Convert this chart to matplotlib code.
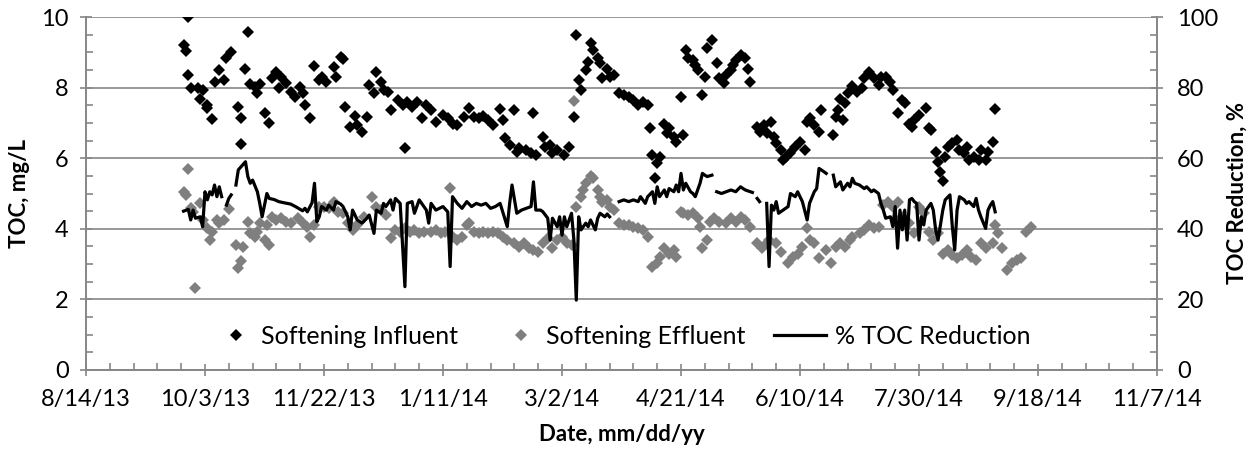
import numpy as np
import matplotlib
matplotlib.use("Agg")
import matplotlib.pyplot as plt
import matplotlib.dates as mdates
from matplotlib.ticker import FixedLocator, MultipleLocator, FuncFormatter
from matplotlib.legend_handler import HandlerLine2D

plt.rcParams['font.family'] = ['Lato', 'DejaVu Sans']

# days since 8/14/13
inf_day = [41, 42, 43, 43, 44, 47, 48, 49, 51, 51, 53, 54, 56, 58, 59, 61, 64, 65, 65, 67,
           68, 69, 71, 72, 73, 75, 77, 78, 80, 81, 82, 84, 86, 88, 90, 91, 92, 94, 96, 98,
           99, 101, 104, 105, 107, 108, 109, 111, 113, 114, 116, 118, 119, 121, 122, 124, 125, 127, 128, 131,
           133, 134, 135, 137, 139, 141, 143, 145, 147, 150, 152, 154, 156, 159, 161, 163, 165, 167, 169, 171,
           174, 175, 176, 178, 180, 181, 182, 185, 187, 188, 189, 192, 193, 195, 196, 198, 201, 203, 205, 206,
           207, 208, 210, 211, 212, 213, 215, 216, 217, 219, 220, 222, 224, 226, 228, 230, 232, 234, 236, 237,
           238, 239, 240, 241, 243, 244, 245, 247, 248, 250, 251, 252, 253, 255, 256, 257, 259, 260, 261, 263,
           265, 266, 268, 269, 271, 272, 273, 275, 277, 278, 279, 282, 283, 285, 286, 288, 289, 290, 292, 293,
           294, 296, 298, 300, 302, 303, 304, 306, 308, 309, 314, 315, 316, 317, 318, 319, 320, 322, 324, 326,
           327, 329, 331, 333, 334, 336, 338, 339, 341, 343, 344, 346, 347, 348, 350, 353, 354, 355, 357, 358,
           359, 360, 361, 362, 364, 366, 367, 369, 370, 371, 373, 375, 376, 378, 379, 381, 382]
inf_toc = [9.20, 9.05, 10.0, 8.36, 8.00, 8.00, 7.67, 7.93, 7.50, 7.41, 7.10, 8.17, 8.50, 8.22, 8.83, 9.02, 7.44, 6.39, 7.13, 8.52,
           9.58, 8.10, 8.03, 7.84, 8.10, 7.27, 7.00, 8.26, 8.45, 7.98, 8.31, 8.14, 7.88, 7.74, 8.03, 7.84, 7.50, 7.13, 8.61, 8.22,
           8.31, 8.17, 8.58, 8.31, 8.88, 8.80, 7.46, 6.89, 7.20, 6.94, 6.75, 7.16, 8.07, 7.84, 8.45, 8.17, 7.93, 7.88, 7.37, 7.65,
           7.50, 6.28, 7.60, 7.46, 7.60, 7.13, 7.50, 7.37, 7.03, 7.22, 7.13, 6.98, 6.94, 7.18, 7.41, 7.18, 7.13, 7.20, 7.08, 6.94,
           7.38, 7.08, 6.56, 6.37, 7.37, 6.18, 6.28, 6.23, 6.14, 7.29, 6.09, 6.61, 6.33, 6.37, 6.14, 6.23, 6.09, 6.31, 7.16, 9.49,
           8.22, 7.93, 8.50, 8.73, 9.25, 9.07, 8.83, 8.69, 8.26, 8.54, 8.31, 8.36, 7.84, 7.79, 7.74, 7.65, 7.50, 7.60, 7.50, 6.85,
           6.09, 5.43, 5.85, 6.04, 6.98, 6.70, 6.85, 6.61, 6.47, 7.74, 6.66, 9.07, 8.83, 8.78, 8.64, 8.50, 7.79, 8.31, 9.11, 9.35,
           8.71, 8.26, 8.12, 8.36, 8.50, 8.64, 8.78, 8.92, 8.83, 8.54, 8.17, 6.89, 6.75, 6.94, 6.70, 7.03, 6.61, 6.42, 6.23, 5.95,
           6.04, 6.14, 6.33, 6.47, 6.23, 7.03, 7.13, 6.94, 6.75, 7.37, 6.66, 7.18, 7.37, 7.69, 7.08, 7.55, 7.84, 8.05, 7.88, 7.98,
           8.26, 8.45, 8.26, 8.07, 8.31, 8.31, 8.17, 7.93, 7.27, 7.65, 7.55, 6.98, 6.89, 7.08, 7.22, 7.41, 6.85, 6.80, 6.18, 5.90,
           5.62, 5.36, 6.04, 6.33, 6.42, 6.51, 6.23, 6.14, 6.33, 5.95, 6.04, 5.95, 6.23, 5.95, 6.18, 6.47, 7.38]

eff_day = [41, 42, 43, 44, 45, 46, 48, 49, 51, 52, 53, 55, 56, 58, 60, 63, 64, 65, 66, 68,
           69, 71, 72, 73, 75, 76, 77, 78, 80, 82, 84, 86, 89, 91, 93, 94, 96, 98, 100, 102,
           104, 106, 108, 110, 112, 114, 117, 120, 122, 124, 126, 128, 130, 132, 134, 136, 138, 140, 142, 145,
           147, 149, 151, 153, 154, 156, 158, 160, 161, 163, 165, 167, 169, 171, 173, 175, 177, 180, 182, 184,
           186, 188, 190, 192, 194, 196, 198, 200, 202, 204, 205, 206, 208, 209, 210, 212, 213, 215, 216, 217,
           219, 220, 222, 224, 226, 228, 230, 232, 234, 236, 238, 240, 241, 243, 245, 247, 248, 250, 251, 253,
           255, 257, 258, 259, 261, 262, 264, 266, 269, 271, 273, 275, 277, 279, 282, 284, 286, 287, 290, 292,
           295, 297, 299, 301, 303, 304, 306, 308, 311, 313, 315, 317, 319, 321, 322, 325, 327, 329, 331, 333,
           335, 337, 339, 341, 343, 346, 348, 350, 352, 354, 356, 358, 360, 362, 364, 366, 368, 370, 372, 374,
           376, 378, 381, 382, 383, 385, 387, 389, 391, 393, 395, 397]
eff_toc = [5.05, 4.96, 5.70, 4.58, 4.48, 2.31, 4.72, 4.25, 4.01, 3.68, 3.92, 4.25, 4.16, 4.25, 4.55, 3.54, 2.88, 3.10, 3.49, 4.20,
           3.87, 3.78, 3.92, 4.16, 3.68, 4.11, 3.54, 4.34, 4.25, 4.30, 4.20, 4.16, 4.30, 4.16, 4.06, 3.78, 4.11, 4.63, 4.63, 4.58,
           4.77, 4.48, 4.44, 4.16, 3.97, 4.11, 4.34, 4.91, 4.63, 4.53, 4.39, 3.73, 3.97, 3.92, 4.01, 3.92, 3.97, 3.87, 3.92, 3.92,
           3.97, 3.87, 3.92, 5.15, 3.78, 3.68, 3.78, 4.11, 4.16, 3.92, 3.87, 3.92, 3.87, 3.92, 3.87, 3.78, 3.68, 3.59, 3.49, 3.59,
           3.45, 3.40, 3.35, 3.59, 3.73, 3.45, 3.68, 3.78, 3.59, 3.54, 7.63, 4.63, 4.91, 5.10, 5.29, 5.50, 5.43, 5.10, 4.91, 4.77,
           4.82, 4.63, 4.53, 4.16, 4.11, 4.11, 4.06, 4.01, 3.97, 3.78, 2.93, 3.02, 3.21, 3.45, 3.30, 3.40, 3.21, 4.48, 4.45, 4.39,
           4.44, 4.30, 4.06, 3.45, 3.68, 4.20, 4.30, 4.20, 4.16, 4.30, 4.20, 4.34, 4.25, 4.06, 3.59, 3.45, 3.59, 3.68, 3.59, 3.35,
           3.02, 3.21, 3.30, 3.49, 4.01, 3.68, 3.59, 3.16, 3.40, 3.02, 3.49, 3.59, 3.49, 3.68, 3.78, 3.87, 3.97, 4.11, 4.01, 4.06,
           4.67, 4.77, 4.63, 4.77, 4.34, 4.16, 3.87, 4.63, 4.44, 3.92, 3.68, 3.87, 3.30, 3.40, 3.26, 3.16, 3.26, 3.40, 3.21, 3.12,
           3.59, 3.45, 3.59, 4.11, 3.87, 3.45, 2.83, 3.02, 3.12, 3.16, 3.90, 4.05]

red_day = [41, 43, 44, 45, 46, 48, 49, 50, 51, 52, 53, 54, 55, 56, 57, 58, 59, 60, 61, 62,
           63, 64, 67, 68, 69, 70, 72, 73, 74, 76, 77, 79, 81, 83, 86, 88, 91, 92, 93, 95,
           96, 97, 98, 99, 101, 102, 104, 105, 107, 108, 110, 111, 112, 114, 116, 118, 119, 121, 122, 124,
           125, 126, 128, 129, 130, 132, 134, 135, 137, 138, 140, 142, 143, 144, 145, 147, 150, 152, 153, 154,
           156, 158, 160, 162, 164, 166, 168, 170, 172, 174, 177, 178, 179, 181, 183, 185, 187, 188, 189, 191,
           192, 194, 195, 196, 198, 199, 200, 201, 202, 204, 205, 206, 207, 208, 210, 211, 212, 214, 215, 216,
           218, 219, 220, 221, 224, 226, 228, 230, 232, 233, 235, 236, 238, 239, 240, 241, 243, 244, 245, 247,
           248, 249, 250, 251, 252, 254, 255, 256, 258, 259, 260, 261, 263, 264, 265, 267, 269, 271, 273, 275,
           277, 280, 281, 282, 283, 284, 286, 287, 288, 289, 290, 291, 294, 295, 296, 298, 299, 301, 303, 304,
           306, 307, 308, 310, 311, 312, 314, 315, 317, 318, 320, 321, 322, 323, 325, 327, 328, 330, 331, 333,
           334, 335, 336, 338, 339, 340, 341, 342, 343, 344, 345, 346, 347, 348, 349, 350, 351, 352, 353, 355,
           356, 357, 358, 360, 361, 363, 364, 365, 366, 367, 369, 370, 371, 373, 374, 375, 376, 378, 379, 380,
           381, 382]
red_pct = [45.0, 45.5, 42.5, 45.3, 43.0, 43.4, 40.6, 50.5, 48.2, 50.5, 49.6, 52.4, 49.1, 51.9, 49.1, np.nan, 46.7, 48.6, 49.6, np.nan,
           52.4, 56.7, 59.0, 54.8, 52.9, 53.8, 50.5, 47.2, 43.4, 50.0, 48.6, 48.3, 47.7, 47.4, 47.0, 46.3, 45.1, 45.8, 44.8, 47.4,
           52.9, 42.0, 43.4, 46.3, 45.3, 46.7, 45.3, 47.7, 47.0, 46.3, 43.4, 39.7, 45.3, 42.5, 41.6, 43.0, 43.9, 38.7, 45.3, 44.4,
           47.2, 46.3, 48.2, 45.3, 48.6, 47.2, 23.6, 47.2, 47.7, 44.4, 48.2, 46.3, 45.3, 41.6, 47.2, 45.3, 46.3, 44.8, 29.3, 49.1,
           47.2, 45.8, 47.7, 46.3, 47.2, 46.7, 47.2, 45.8, 46.3, 47.2, 40.6, 47.2, 52.4, 44.4, 45.3, 45.8, 46.3, 53.3, 45.3, 45.3,
           44.8, 43.0, 36.8, 43.0, 40.6, 43.4, 38.2, 43.4, 40.6, 44.4, 36.8, 19.8, 43.4, 39.7, 41.6, 40.6, 42.5, 39.7, 43.0, 44.4,
           43.4, 44.2, 43.4, np.nan, 47.7, 48.2, 47.7, 48.2, 47.7, 49.1, 47.2, 49.1, 50.5, 47.2, 51.9, 49.1, 51.0, 49.1, 51.4, 50.5,
           52.4, 50.5, 55.7, 51.0, 52.9, 50.5, 50.0, 49.1, 52.9, 55.7, 55.2, 54.8, 55.2, np.nan, 50.5, 50.0, 50.5, 51.0, 50.5, 51.9,
           51.0, 50.3, np.nan, 48.6, 47.7, np.nan, 47.2, 29.3, 46.7, 45.3, 47.7, 44.4, 45.8, 46.3, 50.0, 49.1, 50.5, 47.7, 42.5, 47.2,
           50.5, 51.4, 57.1, 56.2, 55.7, np.nan, 55.2, 51.9, 53.3, 51.0, 52.9, 51.9, 54.3, 52.9, 52.4, 51.4, 51.9, 50.5, 51.0, 50.0,
           47.2, 45.3, 43.0, 43.4, 40.6, 46.3, 34.5, 45.3, 39.7, 45.3, 36.8, 48.2, 48.6, 47.7, 47.2, 36.8, 43.4, 41.1, 45.3, 47.2,
           45.3, 39.7, 36.8, 45.3, 48.2, 49.6, 40.6, 34.0, 45.3, 49.1, 48.2, 47.2, 47.7, 46.3, 48.6, 45.3, 43.4, 40.1, 45.3, 46.7,
           47.7, 44.8]

start = mdates.date2num(np.datetime64('2013-08-14'))
grey = '#868686'


class LongLineHandler(HandlerLine2D):
    # excel draws the line sample longer than the marker samples
    def get_xdata(self, legend, xdescent, ydescent, width, height, fontsize):
        xd = np.array([-xdescent - 0.6 * width, width - xdescent])
        return xd, xd


fig = plt.figure(figsize=(12.5, 4.5), dpi=100)
ax = fig.add_axes([0.0688, 0.1778, 0.8568, 0.7844])
ax2 = ax.twinx()

p1, = ax.plot(start + np.array(inf_day), inf_toc, 'D', color='black', ms=5.8, mew=0, label='Softening Influent')
p2, = ax.plot(start + np.array(eff_day), eff_toc, 'D', color='#7f7f7f', ms=5.8, mew=0, label='Softening Effluent')
p3, = ax2.plot(start + np.array(red_day), red_pct, '-', color='black', lw=2.3, label='% TOC Reduction')

ax.set_xlim(start, start + 450)
ax.set_ylim(0, 10)
ax2.set_ylim(0, 100)

ax.xaxis.set_major_locator(FixedLocator(start + np.arange(0, 451, 50)))
ax.xaxis.set_minor_locator(FixedLocator(start + np.arange(0, 451, 10)))
def datefmt(x, pos):
    d = mdates.num2date(x)
    return f"{d.month}/{d.day}/{d:%y}"
ax.xaxis.set_major_formatter(FuncFormatter(datefmt))

ax.yaxis.set_major_locator(MultipleLocator(2))
ax.yaxis.set_minor_locator(MultipleLocator(0.5))
ax2.yaxis.set_major_locator(MultipleLocator(20))
ax2.yaxis.set_minor_locator(MultipleLocator(5))

ax.grid(axis='y', which='major', color=grey, lw=1.2)
ax.set_axisbelow(True)

for a in (ax, ax2):
    for s in a.spines.values():
        s.set_color(grey)
        s.set_linewidth(1.2)
    a.spines['top'].set_visible(False)
    a.tick_params(which='major', direction='inout', length=9, width=1.2, color=grey, labelsize=17)
    a.tick_params(which='minor', direction='in', length=5, width=1.2, color=grey)
ax.tick_params(axis='x', pad=9)
ax.tick_params(axis='y', pad=8)
ax2.tick_params(axis='y', pad=10)

ax.set_xlabel('Date, mm/dd/yy', fontsize=16, fontweight='bold', labelpad=10)
ax.set_ylabel('TOC, mg/L', fontsize=16, fontweight='bold', labelpad=8)
ax2.set_ylabel('TOC Reduction, %', fontsize=16, fontweight='bold', labelpad=6)

ax2.legend(handles=[p1, p2, p3], loc='center', bbox_to_anchor=(0.503, 0.096), ncol=3,
           frameon=False, fontsize=18, handlelength=1.3, handletextpad=0.35, columnspacing=1.9,
           handler_map={p3: LongLineHandler()})

fig.savefig('out.png', dpi=100)
